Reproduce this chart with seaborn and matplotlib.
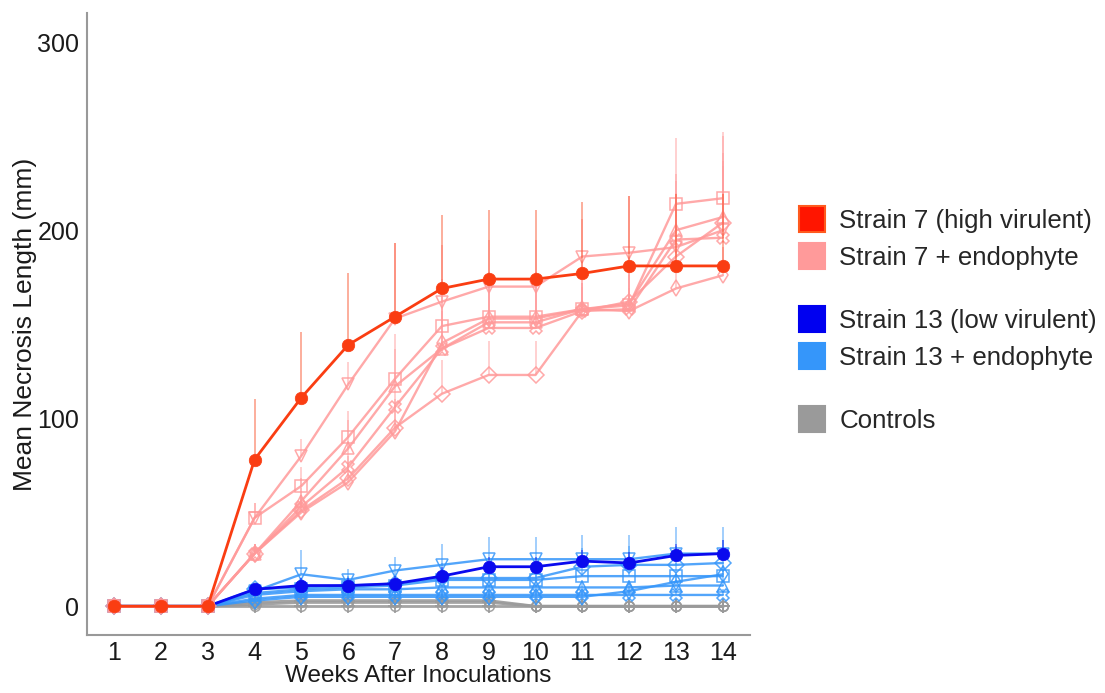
import numpy as np
import pandas as pd
import matplotlib
matplotlib.use('Agg')
import matplotlib.pyplot as plt
import seaborn as sns
from matplotlib.lines import Line2D

weeks = [1, 2, 3, 4, 5, 6, 7, 8, 9, 10, 11, 12, 13, 14]

# strain 7 (high virulent)
strain7 = [0, 0, 0, 78, 111, 139, 154, 169, 174, 174, 177, 181, 181, 181]
strain7_err = [0, 0, 0, 32, 35, 38, 39, 39, 37, 37, 38, 37, 38, 38]

# strain 7 + endophyte
endo7_a = [0, 0, 0, 47, 80, 118, 153, 162, 170, 170, 186, 188, 191, 200]
endo7_b = [0, 0, 0, 47, 64, 90, 121, 149, 154, 154, 158, 160, 214, 217]
endo7_c = [0, 0, 0, 28, 56, 84, 117, 137, 151, 151, 158, 161, 200, 207]
endo7_d = [0, 0, 0, 28, 53, 74, 106, 137, 148, 148, 157, 158, 195, 196]
endo7_e = [0, 0, 0, 28, 51, 68, 95, 113, 123, 123, 157, 162, 186, 204]
endo7_f = [0, 0, 0, 28, 50, 66, 93, 140, 153, 153, 158, 157, 169, 176]
endo7_a_err = [0, 0, 0, 8, 9, 12, 40, 30, 25, 25, 20, 30, 35, 50]
endo7_b_err = [0, 0, 0, 8, 10, 14, 24, 25, 20, 20, 25, 25, 35, 35]
endo7_c_err = [0, 0, 0, 5, 12, 15, 20, 22, 22, 22, 18, 20, 30, 30]
endo7_d_err = [0, 0, 0, 5, 10, 14, 18, 20, 20, 20, 15, 18, 25, 45]
endo7_e_err = [0, 0, 0, 5, 8, 12, 15, 18, 18, 18, 15, 15, 25, 30]
endo7_f_err = [0, 0, 0, 5, 8, 10, 14, 25, 25, 25, 12, 12, 20, 15]

# strain 13 (low virulent)
strain13 = [0, 0, 0, 9, 11, 11, 12, 16, 21, 21, 24, 23, 27, 28]
strain13_err = [0, 0, 0, 3, 4, 4, 4, 5, 5, 5, 6, 6, 6, 7]

# strain 13 + endophyte
endo13_a = [0, 0, 0, 8, 17, 14, 19, 22, 25, 25, 25, 25, 28, 28]
endo13_b = [0, 0, 0, 9, 10, 11, 12, 15, 15, 15, 21, 22, 22, 23]
endo13_c = [0, 0, 0, 7, 9, 10, 11, 14, 14, 14, 16, 16, 16, 16]
endo13_d = [0, 0, 0, 6, 8, 9, 9, 10, 10, 10, 10, 10, 11, 11]
endo13_e = [0, 0, 0, 4, 6, 6, 6, 6, 6, 6, 6, 6, 6, 6]
endo13_f = [0, 0, 0, 3, 5, 5, 5, 5, 5, 5, 5, 8, 13, 17]
endo13_a_err = [0, 0, 0, 4, 13, 6, 7, 11, 12, 12, 13, 13, 14, 14]
endo13_b_err = [0, 0, 0, 3, 5, 5, 6, 8, 8, 8, 10, 10, 10, 12]
endo13_c_err = [0, 0, 0, 3, 4, 4, 5, 6, 6, 6, 6, 6, 7, 7]
endo13_d_err = [0, 0, 0, 2, 3, 3, 4, 4, 4, 4, 4, 4, 5, 5]
endo13_e_err = [0, 0, 0, 2, 3, 3, 3, 3, 3, 3, 3, 3, 3, 3]
endo13_f_err = [0, 0, 0, 2, 2, 2, 2, 2, 2, 2, 2, 3, 4, 5]

# controls
ctrl_a = [0, 0, 0, 2, 3, 3, 3, 3, 3, 0, 0, 0, 0, 0]
ctrl_b = [0, 0, 0, 1, 2, 2, 2, 2, 2, 0, 0, 0, 0, 0]
ctrl_c = [0, 0, 0, 0, 0, 0, 0, 0, 0, 0, 0, 0, 0, 0]
ctrl_err = [0, 0, 0, 2, 2, 2, 2, 2, 2, 1, 1, 1, 1, 1]

legend_labels = ['Strain 7 (high virulent)', 'Strain 7 + endophyte',
                 'Strain 13 (low virulent)', 'Strain 13 + endophyte', 'Controls']

c7 = '#FA3D12'
c7e = '#FF9A9A'
c13 = '#0A0AEE'
c13e = '#3596FA'
cctrl = '#9A9A9A'

sns.set_theme(style='white')
plt.rcParams['font.family'] = ['Liberation Sans', 'DejaVu Sans']

fig = plt.figure(figsize=(11.05, 6.93), dpi=100)
ax = fig.add_axes([0.0787, 0.0837, 0.6, 0.8975])

x = np.array(weeks)


def draw(vals, err, color, marker, lw, ms, alpha, z, filled=False, ealpha=0.6):
    vals = np.array(vals, dtype=float)
    ax.vlines(x, vals, vals + np.array(err), color=color, lw=1.3, alpha=ealpha, zorder=z - 0.5)
    sns.lineplot(x=x, y=vals, ax=ax, color=color, lw=lw, alpha=alpha, marker=marker,
                 markersize=ms, markerfacecolor=color if filled else 'none',
                 markeredgecolor=color, markeredgewidth=1.1 if not filled else 0.5,
                 zorder=z, legend=False)


# controls
for vals in [ctrl_a, ctrl_b, ctrl_c]:
    draw(vals, ctrl_err, cctrl, 'o', 2.0, 7, 0.9, 2)
    sns.lineplot(x=x, y=np.array(vals), ax=ax, color=cctrl, lw=0, marker='+',
                 markersize=10, markeredgecolor=cctrl, markeredgewidth=1.2, zorder=2, legend=False)

# strain 13 + endophyte
e13 = [(endo13_a, endo13_a_err, 'v'), (endo13_b, endo13_b_err, 'D'), (endo13_c, endo13_c_err, 's'),
       (endo13_d, endo13_d_err, '^'), (endo13_e, endo13_e_err, 'X'), (endo13_f, endo13_f_err, 'd')]
for vals, err, m in e13:
    draw(vals, err, c13e, m, 1.7, 8, 0.85, 3, ealpha=0.5)
draw(strain13, strain13_err, c13, 'o', 2.0, 9, 1.0, 4, filled=True, ealpha=0.45)

# strain 7 + endophyte
e7 = [(endo7_a, endo7_a_err, 'v'), (endo7_b, endo7_b_err, 's'), (endo7_c, endo7_c_err, '^'),
      (endo7_d, endo7_d_err, 'X'), (endo7_e, endo7_e_err, 'D'), (endo7_f, endo7_f_err, 'd')]
for vals, err, m in e7:
    draw(vals, err, c7e, m, 1.7, 8, 0.85, 5, ealpha=0.5)
draw(strain7, strain7_err, c7, 'o', 2.0, 9, 1.0, 6, filled=True, ealpha=0.45)

ax.set_xlim(0.42, 14.58)
ax.set_ylim(-15.3, 315.5)
ax.set_xticks(weeks)
ax.set_yticks([0, 100, 200, 300])
ax.tick_params(axis='both', labelsize=18, length=3.5, width=1, color='#999999',
               labelcolor='#1a1a1a', pad=2)
ax.tick_params(axis='x', pad=1)
ax.set_xlabel('Weeks After Inoculations', fontsize=17.5, color='#1a1a1a', labelpad=0)
ax.set_ylabel('Mean Necrosis Length (mm)', fontsize=19, color='#1a1a1a', labelpad=0)
for side in ['top', 'right']:
    ax.spines[side].set_visible(False)
for side in ['left', 'bottom']:
    ax.spines[side].set_color('#999999')
    ax.spines[side].set_linewidth(1.5)


def sq(face, edge):
    return Line2D([], [], lw=0, marker='s', markersize=18.5, markerfacecolor=face,
                  markeredgecolor=edge, markeredgewidth=1.5)


groups = [
    ([sq('#FF1500', '#FF5A1E'), sq(c7e, c7e)], legend_labels[0:2], 0.6540),
    ([sq('#0000F0', '#0000F0'), sq(c13e, c13e)], legend_labels[2:4], 0.5097),
    ([sq(cctrl, cctrl)], legend_labels[4:5], 0.3930),
]
for handles, labels, yc in groups:
    fig.legend(handles, labels, loc='center left', bbox_to_anchor=(0.7231, yc),
               frameon=False, fontsize=18.6, handlelength=1.0, handletextpad=0.56,
               labelspacing=0.5, borderpad=0, borderaxespad=0)

fig.savefig('out.png', dpi=100)
